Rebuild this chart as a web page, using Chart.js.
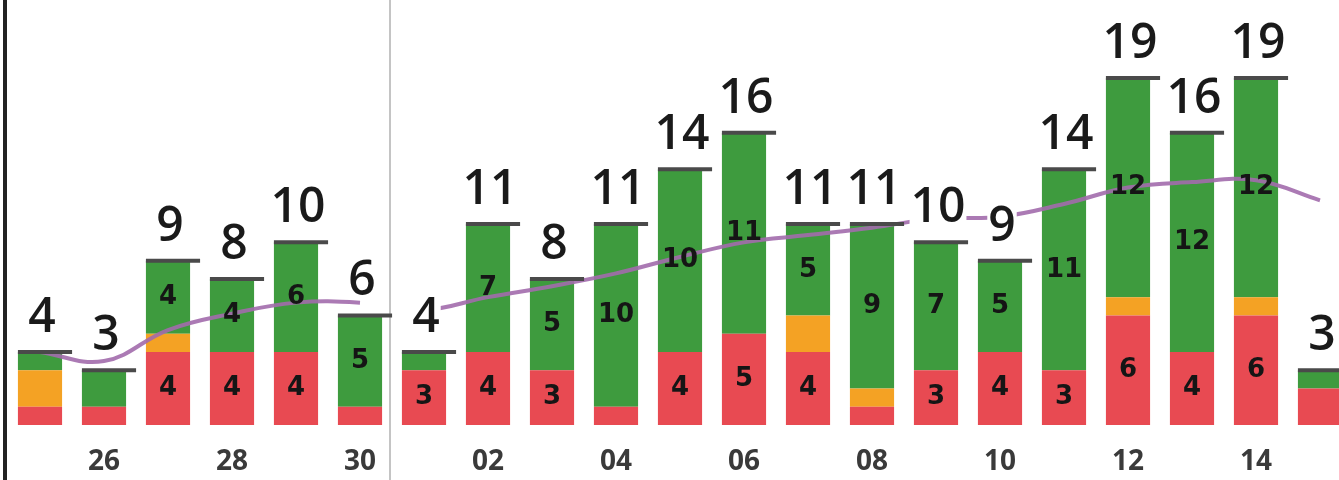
<!DOCTYPE html>
<html>
<head>
<meta charset="utf-8">
<script src="https://cdn.jsdelivr.net/npm/chart.js@4"></script>
<style>
  html, body { margin: 0; padding: 0; background: #fff; overflow: hidden; }
  canvas { display: block; }
</style>
</head>
<body>
<canvas id="myChart" width="1352" height="480"></canvas>
<script>
const days = ['25','26','27','28','29','30','01','02','03','04','05','06','07','08','09','10','11','12','13','14','15']

// stacked parts, bottom to top
const red    = [1,1,4,4,4,1,3,4,3,1,4,5,4,1,3,4,3,6,4,6,2]
const orange = [2,0,1,0,0,0,0,0,0,0,0,0,2,1,0,0,0,1,0,1,0]
const green  = [1,2,4,4,6,5,1,7,5,10,10,11,5,9,7,5,11,12,12,12,1]
const totals = [4,3,9,8,10,6,4,11,8,11,14,16,11,11,10,9,14,19,16,19,3]

// purple trend line
const trend = [4.0,3.5,5.2,6.1,6.7,6.7,6.3,7.0,7.6,8.3,9.2,10.0,10.4,10.8,11.3,11.4,12.1,13.0,13.3,13.4,12.3]

const purple = 'rgba(162,108,172,0.9)'

const ctx = document.getElementById('myChart').getContext('2d')

// borders, caps and labels
const extras = {
    id: 'extras',
    beforeDraw(chart) {
        const c = chart.ctx
        const x = chart.scales.x
        c.save()
        c.fillStyle = '#222'
        c.fillRect(3, 0, 4, chart.height)
        const sep = (x.getPixelForValue(5) + x.getPixelForValue(6)) / 2
        c.fillStyle = '#c4c4c4'
        c.fillRect(sep - 3, 0, 2, chart.height)
        c.restore()
    },
    afterDatasetsDraw(chart) {
        const c = chart.ctx
        const y = chart.scales.y
        const top = chart.getDatasetMeta(2).data
        c.save()
        // inner labels
        c.textAlign = 'center'
        c.textBaseline = 'middle'
        c.font = 'bold 26px "DejaVu Sans", sans-serif'
        c.fillStyle = '#151515'
        ;[0, 2].forEach(di => {
            const vals = chart.data.datasets[di].data
            chart.getDatasetMeta(di).data.forEach((bar, i) => {
                if (vals[i] >= 3) {
                    c.fillText(String(vals[i]), bar.x, (bar.y + bar.base) / 2)
                }
            })
        })
        // caps and totals
        top.forEach((bar, i) => {
            const capY = y.getPixelForValue(totals[i])
            c.strokeStyle = '#4a4a4a'
            c.lineWidth = 4
            c.beginPath()
            c.moveTo(bar.x - bar.width / 2, capY)
            c.lineTo(bar.x + bar.width / 2 + 10, capY)
            c.stroke()

            c.font = '600 48px "Open Sans", sans-serif'
            c.textBaseline = 'alphabetic'
            const txt = String(totals[i])
            const w = c.measureText(txt).width
            const base = capY - 20
            c.fillStyle = '#fff'
            c.fillRect(bar.x + 2 - w / 2 - 1, base - 34, w + 2, 36)
            c.fillStyle = '#1a1a1a'
            c.fillText(txt, bar.x + 2, base)
        })
        c.restore()
    }
}

const data = {
    labels: days,
    datasets: [
        { type: 'bar', data: red, backgroundColor: '#e84a52', stack: 'main', order: 1 },
        { type: 'bar', data: orange, backgroundColor: '#f4a224', stack: 'main', order: 1 },
        { type: 'bar', data: green, backgroundColor: '#3e9b3e', stack: 'main', order: 1 },
        {
            type: 'line',
            data: trend,
            stack: 'trend',
            order: 0,
            borderColor: purple,
            borderWidth: 4,
            pointRadius: 0,
            tension: 0.4,
            segment: {
                borderColor: (s) => s.p0DataIndex === 5 ? 'rgba(0,0,0,0)' : purple,
            },
        },
    ],
}

const config = {
    type: 'bar',
    data: data,
    plugins: [extras],
    options: {
        responsive: false,
        animation: false,
        layout: { padding: { left: 8, right: 0, top: 0, bottom: 0 } },
        plugins: { legend: { display: false }, tooltip: { enabled: false } },
        datasets: { bar: { categoryPercentage: 1, barPercentage: 0.69 } },
        scales: {
            x: {
                stacked: true,
                grid: { display: false, drawTicks: false },
                border: { display: false },
                afterFit: (s) => { s.height = 55 },
                ticks: {
                    autoSkip: false,
                    maxRotation: 0,
                    padding: 20,
                    color: '#3a3a3a',
                    font: { family: '"Open Sans", sans-serif', size: 28, weight: 'bold' },
                    callback: function (value, index) {
                        return index % 2 === 1 ? days[index] : ''
                    },
                },
            },
            y: {
                stacked: true,
                display: false,
                min: 0,
                max: 23.27,
            },
        },
    },
}

const myChart = new Chart(ctx, config)
</script>
</body>
</html>
